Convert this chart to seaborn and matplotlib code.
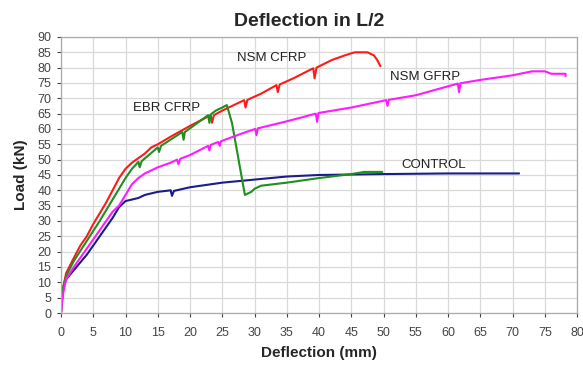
import numpy as np
import pandas as pd
import matplotlib.pyplot as plt
import seaborn as sns

sns.set_style("whitegrid")
plt.rcParams['font.family'] = ['Liberation Sans', 'DejaVu Sans']

# ==========================================================
# DATA
# ==========================================================

control_x = [0, 0.3, 0.8, 2, 4, 6, 8, 9, 10, 12, 13, 15, 17, 17.2, 17.5, 20, 25, 30, 35, 40, 50, 60, 71]
control_y = [0, 8, 11, 14, 19, 25, 31, 34.5, 36.5, 37.5, 38.5, 39.5, 40, 38.2, 39.8, 41, 42.5, 43.5, 44.5, 45, 45.3, 45.5, 45.5]

nsm_cfrp_x = [0, 0.3, 0.8, 2, 3, 4, 5, 6, 7, 8, 9, 10, 11, 12, 13, 14, 15, 17, 20, 23.2, 23.4, 23.7,
              25, 27, 28.4, 28.6, 28.9, 31, 33.4, 33.6, 33.9, 36, 39.1, 39.3, 39.6, 42, 44, 45.5, 47.5,
              48.5, 49, 49.5]
nsm_cfrp_y = [0, 8, 13, 18, 22, 25, 29, 32.5, 36, 40, 44, 47, 49, 50.5, 52, 54, 55, 57.5, 61, 64.5, 62, 64.5,
              66, 68, 69.4, 67, 69.5, 71.5, 74.3, 72, 74.5, 76.5, 79.8, 76.5, 80, 82.5, 84, 85, 85,
              84, 82.5, 80.5]

ebr_cfrp_x = [0, 0.3, 0.8, 2, 4, 6, 8, 9, 10, 11, 12, 12.2, 12.5, 15, 15.2, 15.5, 18.8, 19, 19.2, 22.8, 23,
              23.2, 24, 25, 25.7, 26.5, 28.5, 29.5, 30, 31, 35, 40, 45, 47, 49.8]
ebr_cfrp_y = [0, 8, 12, 17, 23.5, 30, 37, 40.5, 44, 47, 49.3, 47.5, 49.5, 54, 52.5, 54.5, 59, 56.5, 59, 64.5, 62,
              64.7, 66, 67, 67.8, 62, 38.5, 39.5, 40.5, 41.5, 42.5, 44, 45.3, 46, 46]

nsm_gfrp_x = [0, 0.3, 0.8, 2, 4, 6, 8, 9, 10, 11, 12, 13, 15, 17, 18, 18.2, 18.5, 20, 22.8, 23, 23.2, 24.4,
              24.6, 24.8, 28, 30.1, 30.3, 30.5, 35, 39.5, 39.7, 39.9, 45, 50.4, 50.6, 50.8, 55, 61.5,
              61.7, 61.9, 65, 70, 73, 75, 76, 77.5, 78.2, 78.2]
nsm_gfrp_y = [0, 6, 11, 15, 21, 27, 33, 35, 38.5, 42, 44, 45.5, 47.5, 49, 50, 48.5, 50.3, 51.5, 54.5, 53, 54.8, 55.8,
              54.5, 56, 58.5, 60, 58, 60.2, 62.5, 65, 62.3, 65.2, 67, 69.4, 67.5, 69.5, 71, 74.8,
              72, 74.9, 76, 77.5, 78.8, 78.8, 78, 78, 78, 77.2]

series_names = ["CONTROL", "NSM CFRP", "EBR CFRP", "NSM GFRP"]
series_colors = ["#1c1c8a", "#ff1a1a", "#1f8f1f", "#ff1aff"]

label_x = [57.8, 32.6, 16.4, 56.4]
label_y = [48.2, 83.0, 67.0, 77.0]

frames = []
for name, xs, ys in zip(series_names,
                        [control_x, nsm_cfrp_x, ebr_cfrp_x, nsm_gfrp_x],
                        [control_y, nsm_cfrp_y, ebr_cfrp_y, nsm_gfrp_y]):
    frames.append(pd.DataFrame({"x": xs, "y": ys, "series": name}))
df = pd.concat(frames, ignore_index=True)

# ==========================================================
# FIGURE
# ==========================================================

fig = plt.figure(figsize=(5.83, 3.66), dpi=100)
ax = fig.add_axes([0.1046, 0.1448, 0.8854, 0.7542])

sns.lineplot(
    data=df,
    x="x",
    y="y",
    hue="series",
    hue_order=series_names,
    palette=series_colors,
    sort=False,
    estimator=None,
    linewidth=1.5,
    legend=False,
    ax=ax
)

for name, lx, ly in zip(series_names, label_x, label_y):
    ax.text(lx, ly, name, ha='center', va='center', fontsize=9.5, color='#222222')

ax.set_xlim(0, 80)
ax.set_ylim(0, 90)
ax.set_xticks(np.arange(0, 81, 5))
ax.set_yticks(np.arange(0, 91, 5))
ax.tick_params(axis='both', labelsize=9, colors='#444444', length=3, width=0.8)
ax.tick_params(axis='x', pad=7)
ax.tick_params(axis='y', pad=4)
ax.tick_params(axis='both', which='both', bottom=True, left=True)

ax.grid(True, color='#d9d9d9', linewidth=0.9)
for s in ax.spines.values():
    s.set_color('#aaaaaa')
    s.set_linewidth(0.9)

ax.set_title("Deflection in L/2", fontsize=14, weight='bold', pad=8, x=0.48)
ax.set_xlabel("Deflection (mm)", fontsize=11, weight='bold', labelpad=5)
ax.set_ylabel("Load (kN)", fontsize=11, weight='bold', labelpad=7)

plt.savefig("out.png", dpi=100)
plt.close()
